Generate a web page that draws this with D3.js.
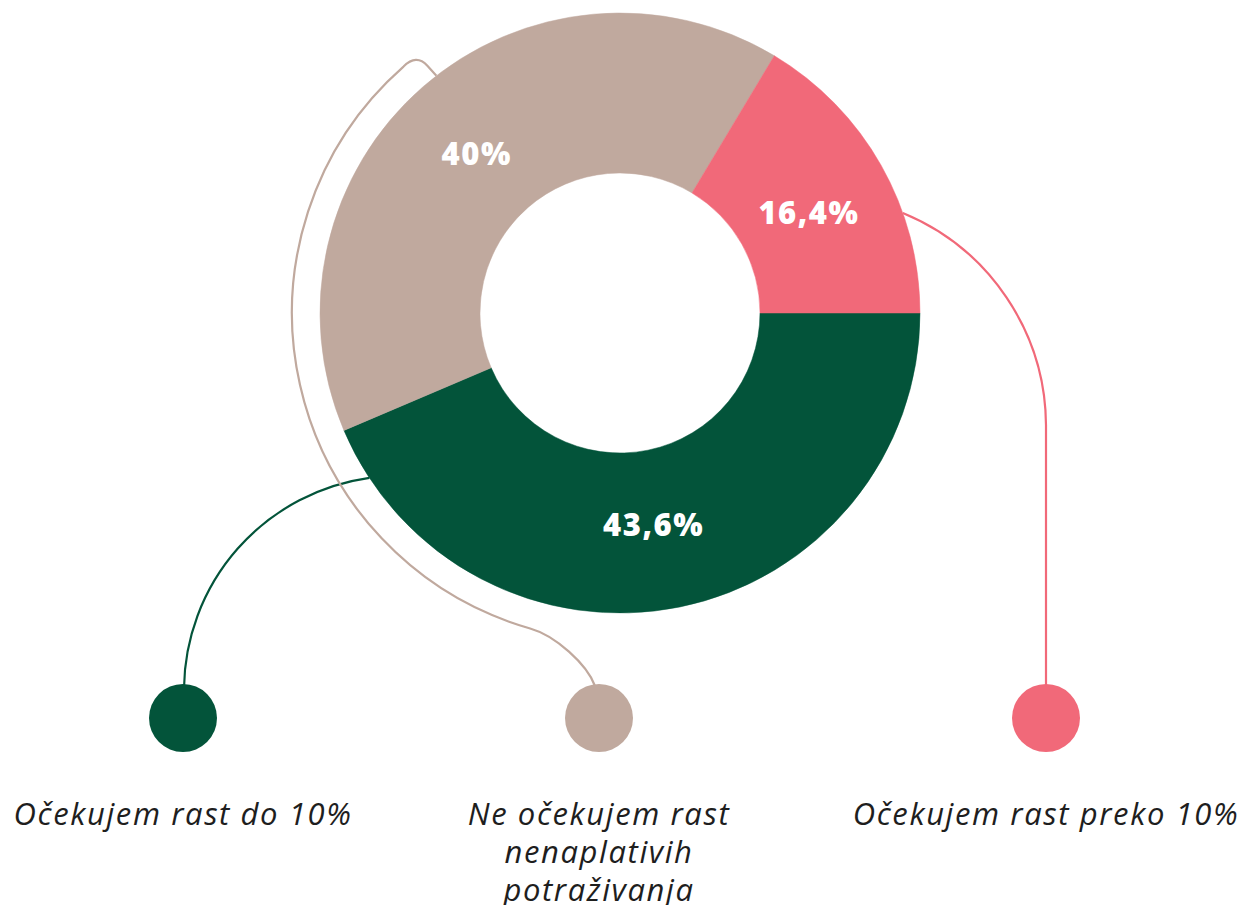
<!DOCTYPE html>
<html>
<head>
<meta charset="utf-8">
<script src="https://cdn.jsdelivr.net/npm/d3@7"></script>
<style>
  html, body { margin: 0; padding: 0; background: #ffffff; }
  svg { display: block; }
</style>
</head>
<body>
<svg id="chart" width="1247" height="905"></svg>
<script>
// ---- data ----
const categories = ["Očekujem rast do 10%", "Ne očekujem rast nenaplativih potraživanja", "Očekujem rast preko 10%"];
const values = [43.6, 40, 16.4];
const valueLabels = ["43,6%", "40%", "16,4%"];
const legendLines = [["Očekujem rast do 10%"], ["Ne očekujem rast", "nenaplativih", "potraživanja"], ["Očekujem rast preko 10%"]];
const colors = ["#03543A", "#C0A99E", "#F16979"];

// ---- layout ----
const W = 1247, H = 905;
const cx = 620, cy = 313;
const outerR = 300, innerR = 140;
const labelR = 214;
const labelAngleNudge = [2.5, -1, 1.5]; // degrees
const legendX = [183, 599, 1046];
const legendY = 718, dotR = 34;
const textY = 825, lineH = 38;

const svg = d3.select("#chart");

const pie = d3.pie().sort(null).value(d => d)
  .startAngle(Math.PI / 2).endAngle(Math.PI / 2 + 2 * Math.PI);
const arcs = pie(values);
const arcGen = d3.arc().innerRadius(innerR).outerRadius(outerR);
const labelArc = d3.arc().innerRadius(labelR).outerRadius(labelR);

const pt = (a, r) => [cx + r * Math.sin(a), cy - r * Math.cos(a)];
const deg = Math.PI / 180;

// connectors (drawn below donut)
const conn = svg.append("g").attr("fill", "none").attr("stroke-width", 2.2);

// green: from near end of slice 0 to legend dot 0
{
  const a = arcs[0].endAngle - 10.3 * deg;
  const p = pt(a, outerR);
  const end = [legendX[0] + 1, legendY - dotR];
  conn.append("path").attr("stroke", colors[0])
    .attr("d", `M${p[0]},${p[1]} A215,215 0 0 0 ${end[0]},${end[1] + 4} L${end[0]},${end[1] + 6}`);
}
// pink: from slice 2 to legend dot 2
{
  const a = arcs[2].startAngle + 0.67 * (arcs[2].endAngle - arcs[2].startAngle);
  const p = pt(a, outerR);
  const vx = legendX[2];
  conn.append("path").attr("stroke", colors[2])
    .attr("d", `M${p[0]},${p[1]} A231,231 0 0 1 ${vx},${cy + 112} L${vx},${legendY - dotR + 4}`);
}
// tan: hook at top of slice 1, big arc around donut, S-curve to legend dot 1
{
  const ringR = 328;
  const a0 = pt(arcs[1].startAngle + 75.3 * deg, outerR);   // on donut edge
  const s = pt(318.7 * deg, ringR);
  const e = pt(195.9 * deg, ringR);
  const end = [legendX[1] - 4, legendY - dotR + 2];
  conn.append("path").attr("stroke", colors[1])
    .attr("d", `M${a0[0]},${a0[1]} L${a0[0] - 9},${a0[1] - 10} Q${a0[0] - 20},${a0[1] - 22} ${s[0]},${s[1]}` +
      ` A${ringR},${ringR} 0 0 0 ${e[0]},${e[1]}` +
      ` C${e[0] + 25},${e[1] + 7} ${end[0] - 8},${end[1] - 22} ${end[0]},${end[1]}`);
}

// donut
svg.append("g").attr("transform", `translate(${cx},${cy})`)
  .selectAll("path").data(arcs).join("path")
  .attr("d", arcGen)
  .attr("fill", (d, i) => colors[i])
  .attr("stroke", (d, i) => colors[i]).attr("stroke-width", 0.5);

// value labels
svg.append("g").attr("transform", `translate(${cx},${cy})`)
  .selectAll("text").data(arcs).join("text")
  .each(function (d, i) {
    const n = labelAngleNudge[i] * deg;
    const c = labelArc.centroid({ startAngle: d.startAngle + n, endAngle: d.endAngle + n });
    d3.select(this).attr("x", c[0]).attr("y", c[1]);
  })
  .attr("dy", "0.36em")
  .attr("text-anchor", "middle")
  .attr("fill", "#ffffff")
  .style("font-family", "'Open Sans', sans-serif")
  .style("font-weight", 800)
  .style("font-size", "31px")
  .style("letter-spacing", "1.5px")
  .text((d, i) => valueLabels[i]);

// legend dots
svg.append("g").selectAll("circle").data(categories).join("circle")
  .attr("cx", (d, i) => legendX[i])
  .attr("cy", legendY)
  .attr("r", dotR)
  .attr("fill", (d, i) => colors[i]);

// legend texts
const lt = svg.append("g").selectAll("text").data(legendLines).join("text")
  .attr("text-anchor", "middle")
  .attr("fill", "#1e1e1e")
  .style("font-family", "'Open Sans', sans-serif")
  .style("font-style", "italic")
  .style("font-weight", 500)
  .style("font-size", "31px")
  .style("letter-spacing", "1.6px");
lt.selectAll("tspan").data((d, i) => d.map(t => ({ t, i }))).join("tspan")
  .attr("x", d => legendX[d.i])
  .attr("y", (d, j) => textY + j * lineH)
  .text(d => d.t);
</script>
</body>
</html>
